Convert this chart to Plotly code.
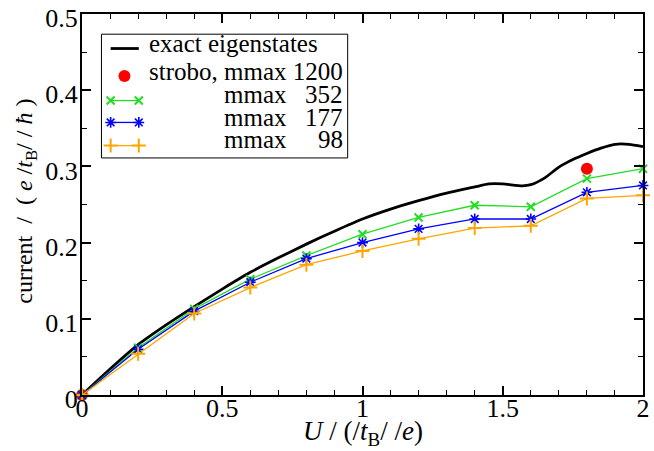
import plotly.graph_objects as go

# exact eigenstates curve
exact_u = [0, 0.1, 0.2, 0.3, 0.4, 0.5, 0.6, 0.7, 0.8, 0.9, 1.0, 1.1, 1.2, 1.3, 1.4,
           1.45, 1.5, 1.57, 1.6, 1.65, 1.7, 1.75, 1.8, 1.85, 1.9, 1.95, 2.0]
exact_i = [0, 0.034, 0.066, 0.092, 0.116, 0.139, 0.161, 0.180, 0.198, 0.215, 0.231, 0.244,
           0.255, 0.265, 0.273, 0.277, 0.277, 0.2745, 0.276, 0.285, 0.299, 0.309, 0.317,
           0.324, 0.329, 0.329, 0.326]

strobo_u = [0, 1.8]
strobo_i = [0, 0.297]

u_pts = [0, 0.2, 0.4, 0.6, 0.8, 1.0, 1.2, 1.4, 1.6, 1.8, 2.0]
m352 = [0, 0.062, 0.113, 0.152, 0.183, 0.211, 0.233, 0.249, 0.247, 0.284, 0.297]
m177 = [0, 0.060, 0.110, 0.148, 0.179, 0.200, 0.218, 0.231, 0.231, 0.266, 0.275]
m98 = [0, 0.054, 0.107, 0.141, 0.171, 0.189, 0.205, 0.219, 0.222, 0.258, 0.262]

x_ticks = [0, 0.5, 1, 1.5, 2]
x_ticktext = ["0", "0.5", "1", "1.5", "2"]
y_ticks = [0, 0.1, 0.2, 0.3, 0.4, 0.5]
y_ticktext = ["0", "0.1", "0.2", "0.3", "0.4", "0.5"]

legend_labels = ["exact eigenstates", "strobo, mmax 1200", "mmax", "mmax", "mmax"]
legend_numbers = ["", "", "352", "177", "98"]

FONT = "Liberation Serif"
W, H = 654, 451
ML, MR, MT, MB = 82, 4, 12, 56
PX0, PX1, PY0, PY1 = ML, W - MR, MT, H - MB  # plot area in pixels

GREEN, BLUE, ORANGE = "#22dd22", "#0000ff", "#ffa500"


def px(x):
    return (x - PX0) / (PX1 - PX0)


def py(y):
    return (PY1 - y) / (PY1 - PY0)


series_styles = [
    dict(color=GREEN, symbol="x-thin-open", size=8, mw=2),
    dict(color=BLUE, symbol="asterisk-open", size=9, mw=1.6),
    dict(color=ORANGE, symbol="cross-thin-open", size=10, mw=2),
]

fig = go.Figure()
fig.add_trace(go.Scatter(x=exact_u, y=exact_i, mode="lines",
                         line=dict(color="black", width=2.8, shape="spline", smoothing=0.6),
                         showlegend=False, cliponaxis=False))
fig.add_trace(go.Scatter(x=strobo_u, y=strobo_i, mode="markers",
                         marker=dict(color="red", size=12, symbol="circle"),
                         showlegend=False, cliponaxis=False))
for vals, st in zip([m352, m177, m98], series_styles):
    fig.add_trace(go.Scatter(x=u_pts, y=vals, mode="lines+markers",
                             line=dict(color=st["color"], width=1.3),
                             marker=dict(symbol=st["symbol"], size=st["size"], color=st["color"],
                                         line=dict(width=st["mw"], color=st["color"])),
                             showlegend=False, cliponaxis=False))

# ---- custom legend (pixel layout) ----
box = (101.7, 32.3, 351, 156.7)
sample_y = [46.7, 74.3, 99, 121, 144.3]
text_y = [41.5, 70, 93.2, 116.5, 138.2]
sx0, sx1, sxm = 111, 139.5, 125

fig.add_shape(type="rect", xref="paper", yref="paper",
              x0=px(box[0]), x1=px(box[2]), y0=py(box[1]), y1=py(box[3]),
              line=dict(color="black", width=1), fillcolor="white", layer="below")

# legend samples drawn on a hidden overlay axis measured in pixels
fig.add_trace(go.Scatter(x=[sx0, sx1], y=[sample_y[0]] * 2, mode="lines",
                         line=dict(color="black", width=2.8), xaxis="x2", yaxis="y2",
                         showlegend=False, hoverinfo="skip"))
fig.add_trace(go.Scatter(x=[sxm], y=[sample_y[1]], mode="markers",
                         marker=dict(color="red", size=12), xaxis="x2", yaxis="y2",
                         showlegend=False, hoverinfo="skip"))
for yy, st in zip(sample_y[2:], series_styles):
    fig.add_trace(go.Scatter(x=[sx0, sx1], y=[yy, yy], mode="lines+markers",
                             line=dict(color=st["color"], width=1.3),
                             marker=dict(symbol=st["symbol"], size=st["size"], color=st["color"],
                                         line=dict(width=st["mw"], color=st["color"])),
                             xaxis="x2", yaxis="y2", showlegend=False, hoverinfo="skip"))

annotations = []
LFS = 25
for i, (lab, num) in enumerate(zip(legend_labels, legend_numbers)):
    xl = 149.3 if i < 2 else 225
    annotations.append(dict(x=px(xl), y=py(text_y[i]), xref="paper", yref="paper",
                            text=lab, showarrow=False, xanchor="left", yanchor="middle",
                            font=dict(family=FONT, size=LFS, color="black"), borderpad=0))
    if num:
        annotations.append(dict(x=px(347.5), y=py(text_y[i]), xref="paper", yref="paper",
                                text=num, showarrow=False, xanchor="right", yanchor="middle",
                                font=dict(family=FONT, size=LFS, color="black"), borderpad=0))

# axis titles
annotations.append(dict(x=px(366), y=py(433), xref="paper", yref="paper",
                        text="<i>U</i> / (/<i>t</i><sub>B</sub>/ /<i>e</i>)", showarrow=False,
                        xanchor="center", yanchor="middle",
                        font=dict(family=FONT, size=27, color="black")))
annotations.append(dict(x=px(25), y=py(200), xref="paper", yref="paper",
                        text="current  /  ( <i>e</i> /<i>t</i><sub>B</sub>/ / <i>ħ</i> )",
                        showarrow=False, textangle=-90, xanchor="center", yanchor="middle",
                        font=dict(family=FONT, size=24, color="black")))

axis_common = dict(showline=True, linecolor="black", linewidth=2.2, mirror="ticks",
                   ticks="inside", ticklen=9, tickwidth=1.6, tickcolor="black",
                   showgrid=False, zeroline=False, ticklabeloverflow="allow",
                   tickfont=dict(family=FONT, size=26, color="black"))

fig.update_layout(
    width=W, height=H,
    margin=dict(l=ML, r=MR, t=MT, b=MB),
    paper_bgcolor="white", plot_bgcolor="white",
    font=dict(family=FONT, size=20, color="black"),
    showlegend=False,
    annotations=annotations,
    xaxis=dict(range=[0, 2], tickvals=x_ticks, ticktext=x_ticktext,
               minor=dict(ticks="inside", ticklen=5, tickwidth=1.2, tickcolor="black", dtick=0.1),
               ticklabelstandoff=-11, **axis_common),
    yaxis=dict(range=[0, 0.5], tickvals=y_ticks, ticktext=y_ticktext,
               minor=dict(ticks="inside", ticklen=5, tickwidth=1.2, tickcolor="black", dtick=0.05),
               ticklabelstandoff=-3, ticklabelshift=4, **axis_common),
    xaxis2=dict(overlaying="x", range=[PX0, PX1], visible=False, fixedrange=True),
    yaxis2=dict(overlaying="y", range=[PY1, PY0], visible=False, fixedrange=True),
)

fig.write_html("out.html")
